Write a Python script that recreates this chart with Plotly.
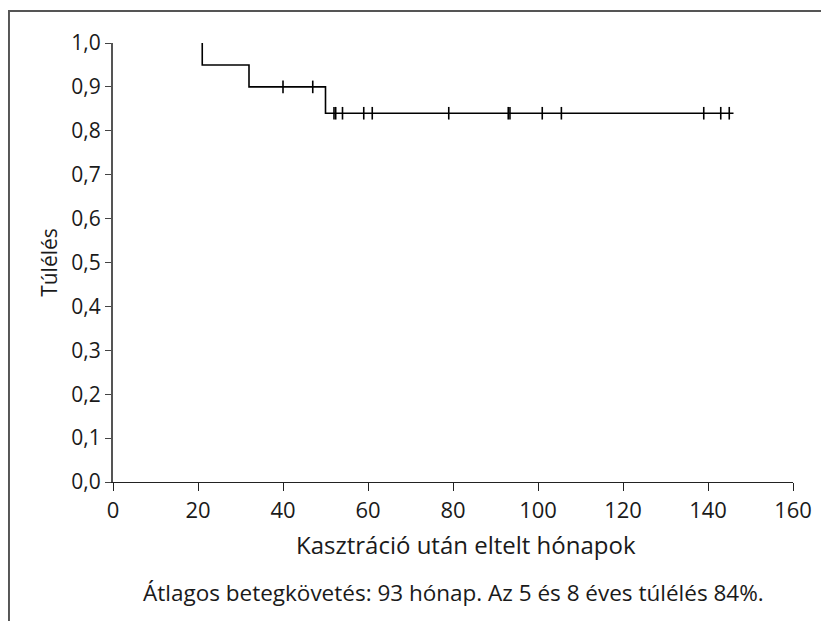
import numpy as np
import plotly.graph_objects as go

# Kaplan-Meier step data (months, survival)
step_months = [21, 21, 32, 50, 146]
step_surv = [1.0, 0.95, 0.90, 0.84, 0.84]

# censored observations (months)
censor_months = [40, 47, 52, 52.4, 54, 59, 61, 79, 93, 93.4, 101, 105.5, 139, 143, 145]

x_ticks = [0, 20, 40, 60, 80, 100, 120, 140, 160]
y_ticks = [0.0, 0.1, 0.2, 0.3, 0.4, 0.5, 0.6, 0.7, 0.8, 0.9, 1.0]

x_title = "Kasztráció után eltelt hónapok"
y_title = "Túlélés"
footnote = "Átlagos betegkövetés: 93 hónap. Az 5 és 8 éves túlélés 84%."

# survival level at each censor time (lookup on the step curve)
sm = np.array(step_months[1:])
ss = np.array(step_surv[1:])
censor_surv = [float(ss[np.searchsorted(sm, c, side="right") - 1]) for c in censor_months]

FONT = "Open Sans"
TXT = "#1a1a1a"

fig = go.Figure()
fig.add_trace(go.Scatter(
    x=step_months, y=step_surv, mode="lines", line_shape="hv",
    line=dict(color="black", width=1.6), cliponaxis=False, showlegend=False,
))
fig.add_trace(go.Scatter(
    x=censor_months, y=censor_surv, mode="markers",
    marker=dict(symbol="line-ns", size=9, line=dict(color="black", width=1.6)),
    cliponaxis=False, showlegend=False,
))

fig.update_layout(
    width=829, height=621,
    margin=dict(l=105, r=44, t=35, b=147),
    paper_bgcolor="white", plot_bgcolor="white",
    separators=",.",
    font=dict(family=FONT, size=21, color=TXT),
    xaxis=dict(
        range=[0, 160], tickvals=x_ticks, ticks="outside", ticklen=8, tickwidth=1.2,
        tickcolor="#222", showline=True, linecolor="#222", linewidth=1.4,
        showgrid=False, zeroline=False, tickfont=dict(size=22),
    ),
    yaxis=dict(
        range=[0, 1], tickvals=y_ticks, tickformat=".1f", ticks="outside", ticklen=6,
        tickwidth=1.2, tickcolor="#444", showline=True, linecolor="#555", linewidth=2,
        showgrid=False, zeroline=False, tickfont=dict(size=21),
        title=dict(text=y_title, standoff=8, font=dict(family=FONT, size=21)),
    ),
    shapes=[dict(type="rect", xref="paper", yref="paper",
                 x0=-0.153, x1=1.2, y0=-0.5, y1=1.0729,
                 line=dict(color="#555", width=2), layer="above")],
    annotations=[
        dict(text=x_title, xref="paper", yref="paper", x=0.519, y=-0.1435,
             xanchor="center", yanchor="middle", showarrow=False,
             font=dict(family=FONT, size=24, color=TXT)),
        dict(text=footnote, xref="paper", yref="paper", x=0.501, y=-0.2506,
             xanchor="center", yanchor="middle", showarrow=False,
             font=dict(family=FONT, size=22.5, color=TXT)),
    ],
)

fig.write_html("out.html")
